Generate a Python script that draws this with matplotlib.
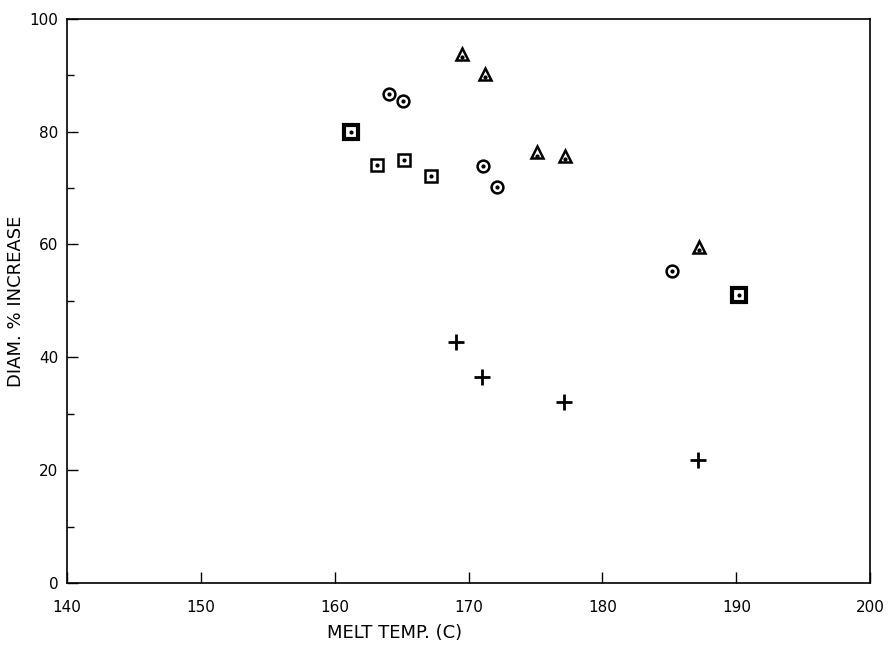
import matplotlib
matplotlib.use("Agg")
from matplotlib import pyplot as plt
from matplotlib.ticker import MultipleLocator

plt.rcParams['font.family'] = ['DejaVu Sans']

# data
sq_x = [161.2, 163.2, 165.2, 167.2, 190.2]
sq_y = [80.0, 74.1, 74.9, 72.2, 51.1]
sq_bold = [True, False, False, False, True]

circ_x = [164.1, 165.1, 171.1, 172.1, 185.2]
circ_y = [86.6, 85.5, 73.9, 70.2, 55.3]

tri_x = [169.5, 171.2, 175.1, 177.2, 187.2]
tri_y = [93.8, 90.2, 76.3, 75.7, 59.6]

plus_x = [169.1, 171.0, 177.1, 187.1]
plus_y = [42.8, 36.6, 32.1, 21.8]

fig = plt.figure(figsize=(8.89, 6.45), dpi=100)
ax = fig.add_axes([0.075, 0.096, 0.904, 0.875])

# squares (two drawn heavier)
for x, y, b in zip(sq_x, sq_y, sq_bold):
    if b:
        ax.plot(x, y, marker="s", ms=10, mew=3, mfc="white", mec="black", ls="none")
    else:
        ax.plot(x, y, marker="s", ms=8, mew=1.8, mfc="white", mec="black", ls="none")
ax.plot(sq_x, sq_y, marker="o", ms=2, color="black", ls="none")

ax.plot(circ_x, circ_y, marker="o", ms=8.5, mew=1.8, mfc="white", mec="black", ls="none")
ax.plot(circ_x, circ_y, marker="o", ms=2, color="black", ls="none")

ax.plot(tri_x, tri_y, marker="^", ms=9, mew=1.8, mfc="white", mec="black", ls="none")
ax.plot(tri_x, [v - 0.6 for v in tri_y], marker="o", ms=2, color="black", ls="none")

ax.plot(plus_x, plus_y, marker="+", ms=11, mew=2, color="black", ls="none")

ax.set_xlim(140, 200)
ax.set_ylim(0, 100)
ax.xaxis.set_major_locator(MultipleLocator(10))
ax.yaxis.set_major_locator(MultipleLocator(20))
ax.yaxis.set_minor_locator(MultipleLocator(10))
ax.tick_params(axis="both", which="major", direction="in", length=8, width=1,
               labelsize=11, top=False, right=False)
ax.tick_params(axis="y", which="minor", direction="in", length=5, width=1, right=False)
ax.tick_params(axis="x", pad=12)
ax.tick_params(axis="y", pad=6)
for s in ax.spines.values():
    s.set_linewidth(1.2)

ax.set_xlabel("MELT TEMP. (C)", fontsize=13)
ax.set_ylabel("DIAM. % INCREASE", fontsize=13)
ax.xaxis.set_label_coords(0.408, -0.072)
ax.yaxis.set_label_coords(-0.052, 0.5)

plt.savefig("out.png", dpi=100)
